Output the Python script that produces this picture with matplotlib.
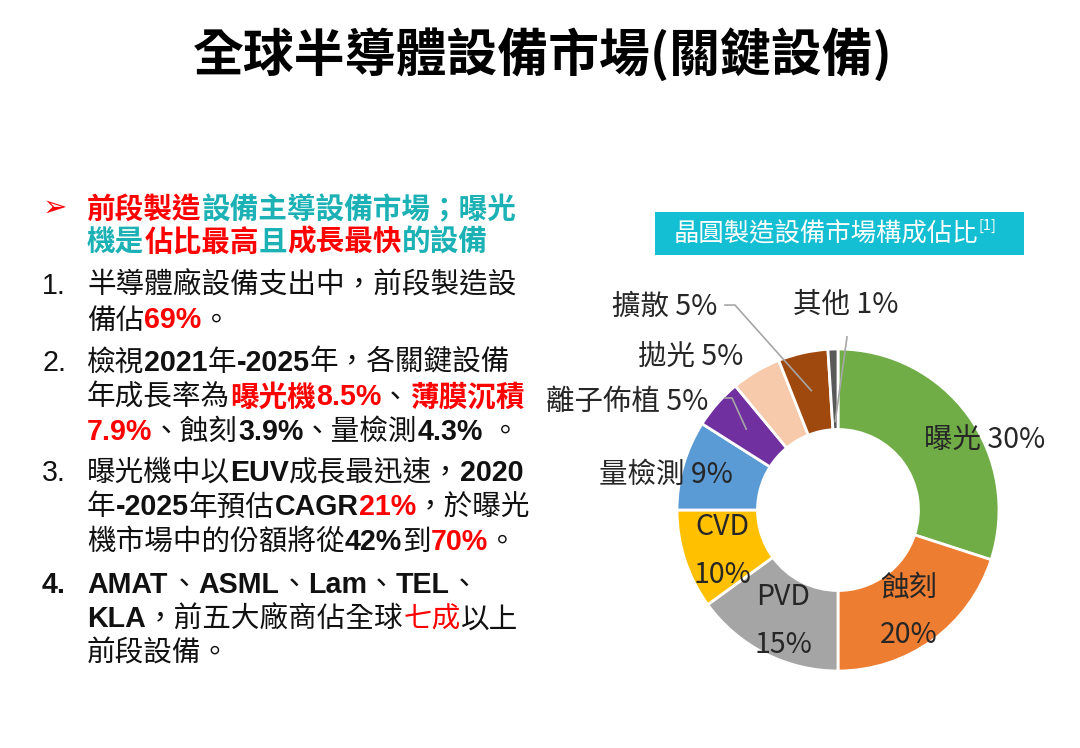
import re

import numpy as np
import matplotlib
matplotlib.use("Agg")
import matplotlib.pyplot as plt
from matplotlib.font_manager import FontProperties, findfont, get_font
from matplotlib.patches import Rectangle


W, H, DPI = 1080, 748, 100
CJK = "Noto Sans CJK TC"
LATIN = "Liberation Sans"

RED = "#FF0000"
TEAL = "#1BB1B5"
INK = "#111111"
LABEL_INK = "#262626"
BOX_BLUE = "#14BFD3"
REGULAR = 500

# donut data
names = ["曝光", "蝕刻", "PVD", "CVD", "量檢測", "離子佈植", "拋光", "擴散", "其他"]
shares = [30, 20, 15, 10, 9, 5, 5, 5, 1]
colors = ["#70AD47", "#ED7D31", "#A5A5A5", "#FFC000", "#5B9BD5",
          "#7030A0", "#F7CAAC", "#A0490F", "#595959"]

chart_title = "晶圓製造設備市場構成佔比"
slide_title = "全球半導體設備市場(關鍵設備)"

# bullet text, [X:...] marks a styled run
header_lines = [
    "[R:前段製造][T:設備主導設備市場；曝光]",
    "[T:機是][R:佔比最高][T:且][R:成長最快][T:的設備]",
]
item_numbers = ["1.", "2.", "3.", "4."]
item_lines = [
    ["半導體廠設備支出中，前段製造設",
     "備佔[R:69%]。"],
    ["檢視[b:2021]年[b:-2025]年，各關鍵設備",
     "年成長率為[R:曝光機8.5%]、[R:薄膜沉積]",
     "[R:7.9%]、蝕刻[b:3.9%]、量檢測[b:4.3%] 。"],
    ["曝光機中以[b:EUV]成長最迅速，[b:2020]",
     "年[b:-2025]年預估[b:CAGR][R:21%]，於曝光",
     "機市場中的份額將從[b:42%]到[R:70%]。"],
    ["[b:AMAT]、[b:ASML]、[b:Lam]、[b:TEL]、",
     "[b:KLA]，前五大廠商佔全球[r:七成]以上",
     "前段設備。"],
]

STYLES = {"R": (RED, True), "r": (RED, False), "b": (INK, True),
          "T": (TEAL, True), "t": (TEAL, False), "k": (INK, False)}

fig = plt.figure(figsize=(W / DPI, H / DPI), dpi=DPI)
fig.patch.set_facecolor("white")

_paths = {}


def weight_of(family, bold):
    if bold:
        return "bold"
    return REGULAR if family == CJK else "normal"


def ft_font(family, bold):
    key = (family, bold)
    if key not in _paths:
        _paths[key] = findfont(FontProperties(family=family,
                                              weight=weight_of(family, bold)))
    return get_font(_paths[key])


def advance(text, families, bold, size):
    total = 0.0
    for ch in text:
        for fam in families:
            f = ft_font(fam, bold)
            if f.get_char_index(ord(ch)):
                break
        f.set_size(size, DPI)
        g = f.load_char(ord(ch))
        total += g.linearHoriAdvance / 65536
    return total


def parse(markup, default):
    out = []
    pos = 0
    for m in re.finditer(r"\[(\w):([^\]]*)\]", markup):
        if m.start() > pos:
            out.append((markup[pos:m.start()], default))
        out.append((m.group(2), m.group(1)))
        pos = m.end()
    if pos < len(markup):
        out.append((markup[pos:], default))
    return out


def split_ascii(text):
    chunks = []
    for ch in text:
        a = ord(ch) < 128
        if chunks and chunks[-1][1] == a:
            chunks[-1][0] += ch
        else:
            chunks.append([ch, a])
    return chunks


def draw_line(x, y, markup, size, default="k"):
    for text, style in parse(markup, default):
        color, bold = STYLES[style]
        for chunk, is_ascii in split_ascii(text):
            fams = [LATIN, "DejaVu Sans"] if is_ascii else [CJK, "DejaVu Sans"]
            fig.text(x / W, 1 - y / H, chunk, ha="left", va="baseline",
                     fontsize=size, family=fams,
                     weight=weight_of(fams[0], bold), color=color)
            x += advance(chunk, fams, bold, size)


# slide title
fig.text(543 / W, 1 - 55 / H, slide_title, ha="center", va="center",
         fontsize=36.6, family=[CJK, "DejaVu Sans"], weight="bold", color="black")

# left text block
TXT = 20.6
BASE = 0.38 * TXT * DPI / 72
fig.text(43 / W, 1 - (207 + 9) / H, "➢", ha="left", va="baseline",
         fontsize=21, family="DejaVu Sans", color=RED)
for k, line in enumerate(header_lines):
    draw_line(87, [207, 240][k] + BASE, line, TXT)

item_top = [283, 360, 470, 582]
pitch = 34.5
for n, (num, lines) in enumerate(zip(item_numbers, item_lines)):
    y0 = item_top[n] + BASE
    fig.text(42 / W, 1 - y0 / H, num, ha="left", va="baseline", fontsize=TXT,
             family=LATIN, weight="bold" if n == 3 else "normal", color=INK)
    for j, line in enumerate(lines):
        draw_line(87, y0 + j * pitch, line, TXT)

# chart header box
fig.patches.append(Rectangle((655 / W, 1 - 255 / H), 369 / W, 43 / H,
                             transform=fig.transFigure, facecolor=BOX_BLUE,
                             edgecolor="none", zorder=0))
fig.text(674 / W, 1 - 234 / H, chart_title, ha="left", va="center",
         fontsize=18.3, family=[CJK, "DejaVu Sans"], weight=REGULAR, color="white")
fig.text(979 / W, 1 - 230 / H, "[1]", ha="left", va="baseline",
         fontsize=10.5, family=[CJK, "DejaVu Sans"], color="white")

# donut
CX, CY, R = 838, 510, 161
ax = fig.add_axes([(CX - R) / W, 1 - (CY + R) / H, 2 * R / W, 2 * R / H])
wedges, _ = ax.pie(shares, colors=colors, startangle=90, counterclock=False,
                   radius=1.0,
                   wedgeprops=dict(width=0.5, edgecolor="white", linewidth=2))
ax.set_xlim(-1, 1)
ax.set_ylim(-1, 1)
ax.axis("off")

# label placement: (x, y, ha, two lines)
label_pos = [
    (0.913, 0.435, "center", False),
    (0.441, -0.627, "center", True),
    (-0.342, -0.689, "center", True),
    (-0.720, -0.255, "center", True),
    (-0.652, 0.217, "right", False),
    (-0.807, 0.671, "right", False),
    (-0.590, 0.944, "right", False),
    (-0.752, 1.261, "right", False),
    (0.050, 1.273, "center", False),
]
LBL = 20.5
gap = 24 / R
for name, share, (lx, ly, ha, two) in zip(names, shares, label_pos):
    kw = dict(ha=ha, va="center", fontsize=LBL, family=[CJK, "DejaVu Sans"],
              weight=REGULAR, color=LABEL_INK, clip_on=False)
    if two:
        ax.text(lx, ly + gap, name, **kw)
        ax.text(lx, ly - gap, f"{share}%", **kw)
    else:
        ax.text(lx, ly, f"{name} {share}%", **kw)

# leader lines: wedge index, start, elbow, radius of end point
leaders = [
    (7, (-0.702, 1.273), (-0.640, 1.273), 0.76),
    (5, (-0.702, 0.696), (-0.658, 0.696), 0.76),
    (8, (0.056, 1.075), None, 0.55),
]
for idx, start, elbow, rr in leaders:
    w = wedges[idx]
    mid = np.deg2rad((w.theta1 + w.theta2) / 2)
    end = (rr * np.cos(mid), rr * np.sin(mid))
    pts = [start] + ([elbow] if elbow else []) + [end]
    xs, ys = zip(*pts)
    ax.plot(xs, ys, color="#A6A6A6", lw=1.2, clip_on=False, zorder=5)

fig.savefig("out.png", dpi=DPI, facecolor="white")
